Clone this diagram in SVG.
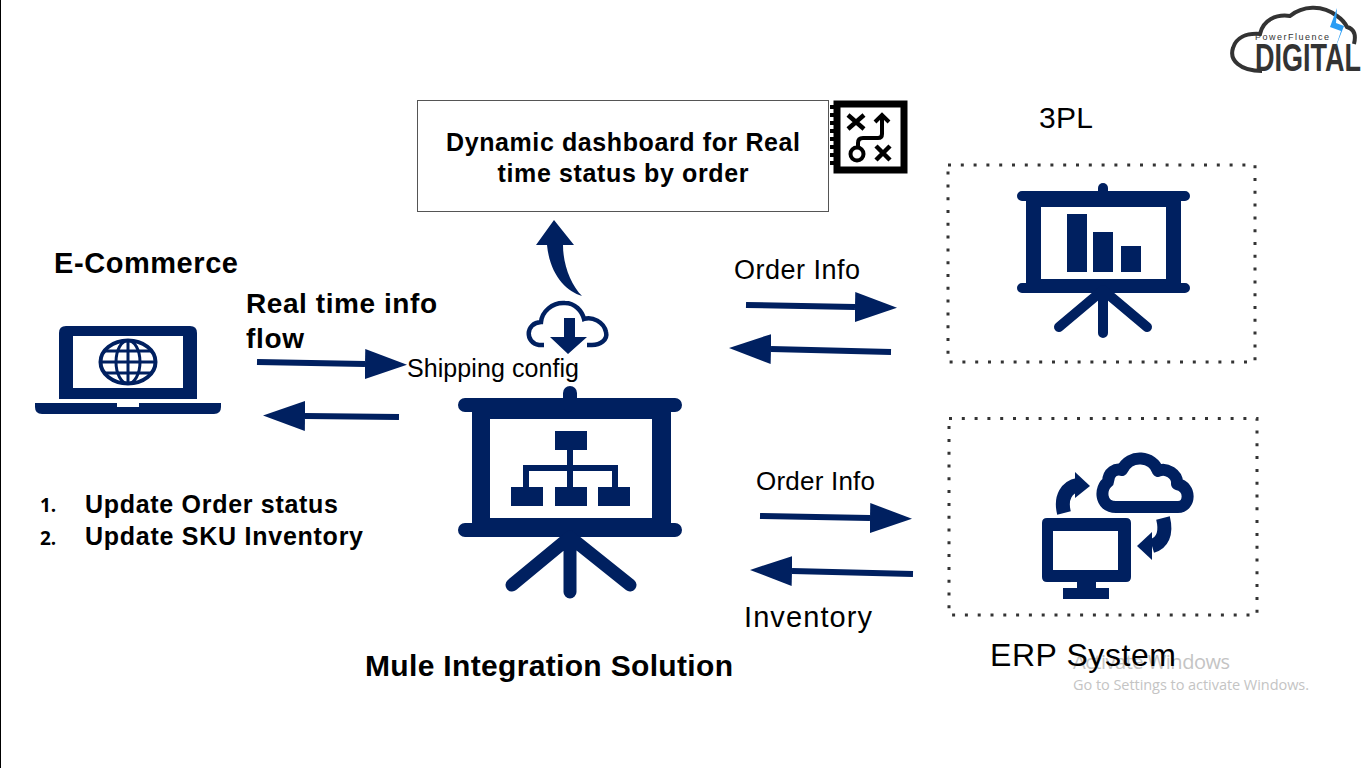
<svg xmlns="http://www.w3.org/2000/svg" width="1366" height="768" viewBox="0 0 1366 768">
<style>
.t{font-family:"Liberation Sans",Arial,sans-serif;fill:#000}
.b{font-weight:bold}
.n{fill:#002060}
.ol{fill:none;stroke:#002060;stroke-linecap:round;stroke-linejoin:round}
.dot{fill:none;stroke:#333;stroke-width:3;stroke-dasharray:3 9.8}
.arr{stroke:#002060;stroke-width:6;fill:none;marker-end:url(#head)}
.wm{font-family:"Open Sans","Liberation Sans",sans-serif;fill:#c4c4c4}
.lg{font-family:"Liberation Sans",Arial,sans-serif;fill:#333}
</style>
<defs>
<marker id="head" markerUnits="userSpaceOnUse" markerWidth="42" markerHeight="30" viewBox="0 0 42 30" refX="0" refY="15" orient="auto"><polygon points="0,0 42,15 0,30" fill="#002060"/></marker>
</defs>
<rect width="1366" height="768" fill="#fff"/>
<line x1="0.5" y1="0" x2="0.5" y2="768" stroke="#000" stroke-width="1"/>

<g id="logo">
<path d="M1262 71C1240 71 1229 60 1233 48C1236 38 1246 33 1260 34C1263 20 1276 14 1290 16C1302 6 1322 4 1337 16C1343 20 1345 23 1347 27C1355 29 1356 36 1354 44" fill="none" stroke="#333" stroke-width="4"/>
<text class="lg" x="1255" y="40" font-size="9" textLength="74" lengthAdjust="spacing">PowerFluence</text>
<text class="lg" x="1255" y="71" font-size="38" font-weight="bold" textLength="106" lengthAdjust="spacingAndGlyphs">DIGITAL</text>
<polygon points="1337,8 1330,27 1341,31 1335,49 1344,26 1336,23" fill="#2a9df4"/>
</g>

<g id="dashboard">
<rect x="417.500" y="100.500" width="411" height="111" fill="#fff" stroke="#555" stroke-width="1"/>
<text class="t b" x="623" y="151" font-size="25" text-anchor="middle" textLength="354">Dynamic dashboard for Real</text>
<text class="t b" x="623" y="182" font-size="25" text-anchor="middle" textLength="251">time status by order</text>
</g>
<g id="roadmap-icon">
<rect x="837" y="104" width="67" height="66" fill="#fff" stroke="#000" stroke-width="7"/>
<path d="M830 107h4M830 115h4M830 123h4M830 131h4M830 139h4M830 147h4M830 155h4M830 163h4" stroke="#000" stroke-width="4" fill="none"/>
<path d="M848 115l16 14M864 115l-16 14M876 146l14 14M890 146l-14 14" stroke="#000" stroke-width="4.500" fill="none"/>
<circle cx="857" cy="154" r="6.500" fill="none" stroke="#000" stroke-width="4"/>
<path d="M858 147v-4q0-5 5-5h15q4 0 4-4v-16M875 122l7-7 7 7" stroke="#000" stroke-width="4" fill="none"/>
</g>

<g id="ecommerce">
<text class="t b" x="54" y="273" font-size="29" textLength="184">E-Commerce</text>
<path class="n" fill-rule="evenodd" d="M66 326H190Q197 326 197 333V399H59V333Q59 326 66 326ZM73 336V388H183V336Z"/>
<path class="n" d="M35 403H117V407H139V403H221V407Q221 414 214 414H42Q35 414 35 407Z"/>
<g fill="none" stroke="#002060" stroke-width="3">
<ellipse cx="128" cy="362" rx="27.500" ry="21.500" stroke-width="4"/>
<ellipse cx="128" cy="362" rx="12" ry="21.500"/>
<path d="M128 340V384M101 362H155M105 351H151M105 373H151"/>
</g>
</g>

<g id="mule">
<path class="n" fill-rule="evenodd" d="M472 412H671V523H472ZM490 419V518H652V419Z"/>
<g class="ol">
<path d="M465 405H675M465 530H675" stroke-width="14"/>
<path d="M570 393V405" stroke-width="14"/>
<path d="M570 537V592M570 537L512 585M570 537L630 585" stroke-width="13"/>
</g>
<path class="n" d="M555 431H587V450H555ZM511 487H543V506H511ZM555 487H587V506H555ZM598 487H630V506H598Z"/>
<path d="M570 450V487M526 487V468H615V487" fill="none" stroke="#002060" stroke-width="6"/>
<text class="t b" x="365" y="676" font-size="30" textLength="368">Mule Integration Solution</text>
</g>

<g id="cloud-config">
<path d="M544 345H539C525 343 525 323 541 322C542 312 552 302 565 303C575 303 582 311 584 319C592 316 604 322 606 332C608 340 600 345 592 345H587" fill="none" stroke="#002060" stroke-width="4.500"/>
<polygon class="n" points="564,318 575,318 575,337 587,337 568,354 550,337 564,337"/>
<text class="t" x="407" y="377" font-size="25" textLength="172">Shipping config</text>
</g>

<g id="tpl">
<text class="t" x="1039" y="128" font-size="30" textLength="54">3PL</text>
<path class="dot" d="M948 165H1255V362H948Z"/>
<path class="n" fill-rule="evenodd" d="M1026 196H1181V288H1026ZM1041 207V279H1166V207Z"/>
<g class="ol">
<path d="M1022 196H1185M1022 288H1185" stroke-width="10"/>
<path d="M1103 188V196" stroke-width="10"/>
<path d="M1103 290V333M1103 290L1059 327M1103 290L1147 327" stroke-width="10"/>
</g>
<path class="n" d="M1067 214H1087V272H1067ZM1093 232H1113V272H1093ZM1121 246H1141V272H1121Z"/>
</g>

<g id="erp">
<path class="dot" d="M949 418.500H1257V615H949Z"/>
<path class="n" fill-rule="evenodd" d="M1047 518H1126Q1131 518 1131 523V577Q1131 582 1126 582H1096V588H1109V599H1063V588H1077V582H1047Q1042 582 1042 577V523Q1042 518 1047 518ZM1053 531V570H1118V531Z"/>
<path d="M1116 507H1178C1190 507 1192 487 1177 484C1178 474 1166 467 1158 471C1153 456 1130 453 1122 470C1116 468 1108 472 1108 482C1100 487 1099 507 1116 507Z" fill="#fff" stroke="#002060" stroke-width="12" stroke-linejoin="round"/>
<path d="M1064 513C1060 497 1067 487 1078 485" fill="none" stroke="#002060" stroke-width="14"/>
<polygon class="n" points="1090,486 1075,472 1075,498"/>
<path d="M1163 518C1167 534 1162 543 1152 546" fill="none" stroke="#002060" stroke-width="14"/>
<polygon class="n" points="1137,546 1152,532 1152,560"/>
<text class="wm" x="1073" y="669" font-size="20" textLength="157">Activate Windows</text>
<text class="wm" x="1073" y="690" font-size="14.500" textLength="236">Go to Settings to activate Windows.</text>
<text class="t" x="990" y="666" font-size="32" textLength="186">ERP System</text>
</g>

<g id="connectors">
<line class="arr" x1="257" y1="362" x2="365" y2="364"/>
<line class="arr" x1="399" y1="417" x2="305" y2="416"/>
<line class="arr" x1="746" y1="305" x2="855" y2="307"/>
<line class="arr" x1="891" y1="352" x2="771" y2="349"/>
<line class="arr" x1="760" y1="516" x2="870" y2="518"/>
<line class="arr" x1="913" y1="574" x2="792" y2="571"/>
<path class="n" d="M582 296C566 291 550 275 547 245H536L554 220L574 245H563C563 265 571 285 582 296Z"/>
</g>

<g id="labels">
<text class="t b" x="246" y="313" font-size="28" textLength="191">Real time info</text>
<text class="t b" x="246" y="348" font-size="28" textLength="58">flow</text>
<text class="t" x="734" y="279" font-size="27" textLength="126">Order Info</text>
<text class="t" x="756" y="490" font-size="26" textLength="119">Order Info</text>
<text class="t" x="744" y="627" font-size="29" textLength="128">Inventory</text>
<text x="40" y="512" font-family="'Open Sans','Liberation Sans',sans-serif" font-size="19" font-weight="bold">1.</text>
<text x="40" y="545" font-family="'Open Sans','Liberation Sans',sans-serif" font-size="19" font-weight="bold">2.</text>
<text class="t b" x="85" y="513" font-size="25" textLength="253">Update Order status</text>
<text class="t b" x="85" y="545" font-size="25" textLength="278">Update SKU Inventory</text>
</g>
</svg>
